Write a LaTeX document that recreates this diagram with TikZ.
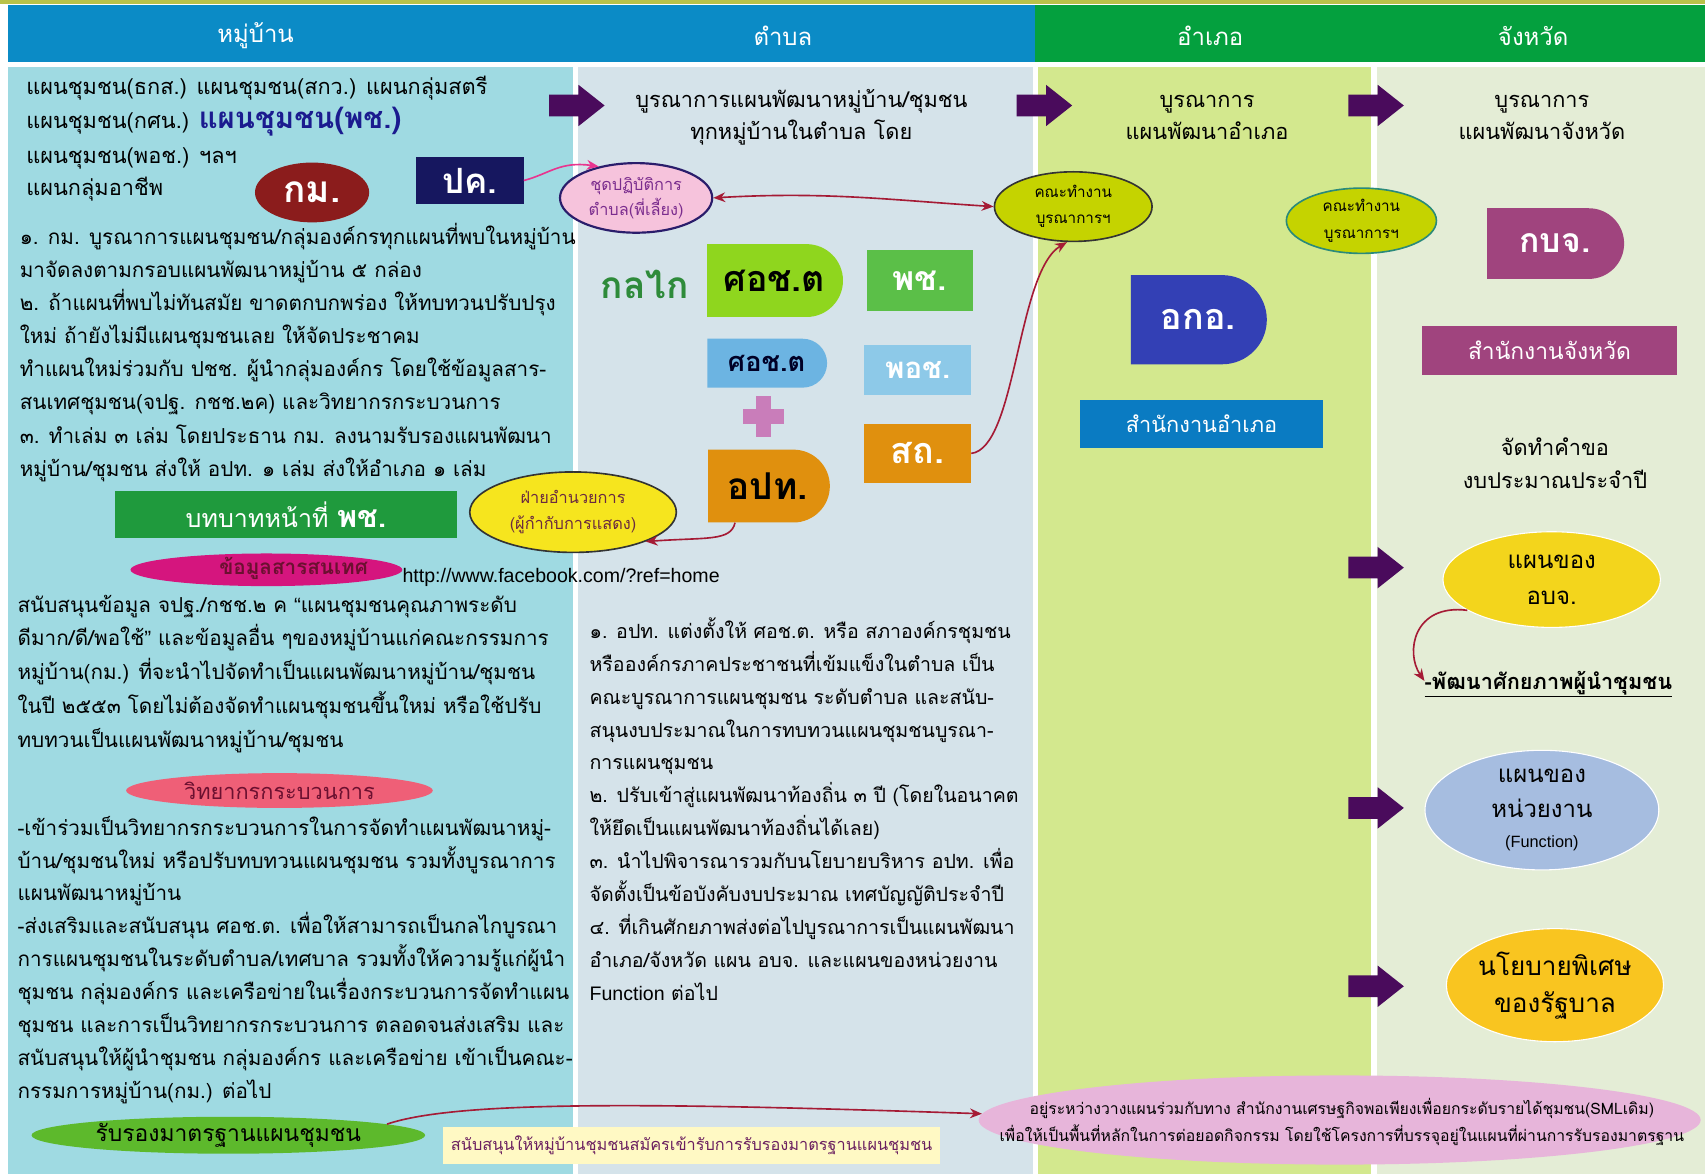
\documentclass[tikz,border=0pt]{standalone}
\usepackage{fontspec}
\setmainfont[Script=Thai]{Loma}
\newfontfamily\latin{Liberation Sans}
\usetikzlibrary{shapes.geometric,shapes.misc,arrows.meta}
\definecolor{topline}{HTML}{B9C24A}
\definecolor{hblue}{HTML}{0B8BC6}
\definecolor{hgreen}{HTML}{04A03E}
\definecolor{colA}{HTML}{9FDAE2}
\definecolor{colB}{HTML}{D5E3EA}
\definecolor{colC}{HTML}{D3E88E}
\definecolor{colD}{HTML}{E4EDD6}
\definecolor{apurple}{HTML}{4A0B5C}
\definecolor{kmred}{HTML}{8B1C1C}
\definecolor{pknavy}{HTML}{16175F}
\definecolor{navytext}{HTML}{1B1B8F}
\definecolor{cspink}{HTML}{F6C3DC}
\definecolor{csborder}{HTML}{2A1D6B}
\definecolor{cstext}{HTML}{7B2D8E}
\definecolor{ktyellow}{HTML}{C5D300}
\definecolor{ktteal}{HTML}{2A8A7A}
\definecolor{ctrlgreen}{HTML}{2E8B3A}
\definecolor{sodlime}{HTML}{8FD61E}
\definecolor{pchgreen}{HTML}{5BBF48}
\definecolor{sodblue}{HTML}{6CB4E2}
\definecolor{pochblue}{HTML}{8DC9E8}
\definecolor{plusviolet}{HTML}{C97DBA}
\definecolor{orangebox}{HTML}{E0900E}
\definecolor{faiyellow}{HTML}{F6E51E}
\definecolor{faitext}{HTML}{6A2A40}
\definecolor{akoblue}{HTML}{3340B5}
\definecolor{amphblue}{HTML}{0A7BC2}
\definecolor{kbjpurple}{HTML}{A0447E}
\definecolor{objyellow}{HTML}{F3D51C}
\definecolor{fnblue}{HTML}{A6BDE0}
\definecolor{polorange}{HTML}{F9C520}
\definecolor{pchrect}{HTML}{1F9A3D}
\definecolor{infomag}{HTML}{D5157E}
\definecolor{infotext}{HTML}{6B1030}
\definecolor{wtpink}{HTML}{EF5F77}
\definecolor{rrgreen}{HTML}{5DB92C}
\definecolor{noteyellow}{HTML}{FFF9C4}
\definecolor{notetext}{HTML}{6B2060}
\definecolor{bigpink}{HTML}{E7B5DA}
\definecolor{connred}{HTML}{A51B35}
\definecolor{magline}{HTML}{E8358F}
\newcommand\fsz[2]{\fontsize{#1}{#2}\selectfont}
\begin{document}
\begin{tikzpicture}[x=1pt,y=-1pt,
  hdr/.style={text=white, font=\fsz{22}{26}, inner sep=0},
  lineA/.style={anchor=base west, inner sep=0, font=\fsz{19}{24}},
  lineT/.style={anchor=base west, inner sep=0, font=\fsz{20}{24}},
  lineB/.style={anchor=base west, inner sep=0, font=\fsz{18}{22}},
  ttl/.style={align=center, font=\fsz{20}{30}, inner sep=0},
  boxr/.style={rectangle, inner sep=0},
  dbox/.style={rounded rectangle, rounded rectangle left arc=none, inner sep=0},
  ell/.style={ellipse, inner sep=0},
  conn/.style={draw=connred, line width=1.5pt, -{Stealth[length=11pt,width=9pt]}},
  bigarrow/.pic={\fill[apurple] (0,-10) -- (27,-10) -- (27,-19) -- (51,0) -- (27,19) -- (27,10) -- (0,10) -- cycle;}
]
\useasboundingbox (0,0) rectangle (1568,1080);
\fill[white] (0,0) rectangle (1568,1080);
\fill[topline] (0,0) rectangle (1568,4);
\fill[hblue] (7,5) rectangle (952,57);
\fill[hgreen] (952,5) rectangle (1568,57);
\fill[colA] (7,62) rectangle (527,1080);
\fill[colB] (532,62) rectangle (950,1080);
\fill[colC] (955,62) rectangle (1261,1080);
\fill[colD] (1266,62) rectangle (1568,1080);

% headers
\node[hdr] (h1) at (235,33) {หมู่บ้าน};
\node[hdr] (h2) at (720,33) {ตำบล};
\node[hdr] (h3) at (1113,33) {อำเภอ};
\node[hdr] (h4) at (1410,33) {จังหวัด};

% column 1 top
\node[lineT] (t1) at (24,87) {แผนชุมชน(ธกส.) แผนชุมชน(สกว.) แผนกลุ่มสตรี};
\node[lineT] (t2) at (24,118) {แผนชุมชน(กศน.) {\color{navytext}\bfseries\fsz{27}{30}แผนชุมชน(พช.)}};
\node[lineT] (t3) at (24,150) {แผนชุมชน(พอช.) ฯลฯ};
\node[lineT] (t4) at (24,180) {แผนกลุ่มอาชีพ};
\node[ell, fill=kmred, minimum width=105, minimum height=55, text=white, font=\bfseries\fsz{34}{36}] (km) at (287,177) {กม.};
\node[boxr, fill=pknavy, minimum width=99, minimum height=43, text=white, font=\bfseries\fsz{32}{34}] (pk) at (432,166) {ปค.};

\foreach \t [count=\i] in {
 {๑. กม. บูรณาการแผนชุมชน/กลุ่มองค์กรทุกแผนที่พบในหมู่บ้าน},
 {มาจัดลงตามกรอบแผนพัฒนาหมู่บ้าน ๕ กล่อง},
 {๒. ถ้าแผนที่พบไม่ทันสมัย ขาดตกบกพร่อง ให้ทบทวนปรับปรุง},
 {ใหม่ ถ้ายังไม่มีแผนชุมชนเลย ให้จัดประชาคม},
 {ทำแผนใหม่ร่วมกับ ปชช. ผู้นำกลุ่มองค์กร โดยใช้ข้อมูลสาร-},
 {สนเทศชุมชน(จปฐ. กชช.๒ค) และวิทยากรกระบวนการ},
 {๓. ทำเล่ม ๓ เล่ม โดยประธาน กม. ลงนามรับรองแผนพัฒนา},
 {หมู่บ้าน/ชุมชน ส่งให้ อปท. ๑ เล่ม ส่งให้อำเภอ ๑ เล่ม}}
 \node[lineA] (na\i) at (18,{225+30.4*(\i-1)}) {\t};

\node[boxr, fill=pchrect, minimum width=314, minimum height=43, text=white, font=\fsz{23}{26}] (pchbox) at (263,473) {บทบาทหน้าที่ {\bfseries\fsz{28}{30}พช.}};
\node[ell, fill=infomag, minimum width=250, minimum height=30] (info) at (245,524) {};
\node[inner sep=0, text=infotext, font=\bfseries\fsz{19}{22}] (infot) at (270,523) {ข้อมูลสารสนเทศ};
\node[anchor=base west, inner sep=0, font=\latin\fsz{18}{20}] (url) at (370,536) {http://www.facebook.com/?ref=home};

\foreach \t [count=\i] in {
 {สนับสนุนข้อมูล จปฐ./กชช.๒ ค {\latin “}แผนชุมชนคุณภาพระดับ},
 {ดีมาก/ดี/พอใช้{\latin ”} และข้อมูลอื่น ๆของหมู่บ้านแก่คณะกรรมการ},
 {หมู่บ้าน(กม.) ที่จะนำไปจัดทำเป็นแผนพัฒนาหมู่บ้าน/ชุมชน},
 {ในปี ๒๕๕๓ โดยไม่ต้องจัดทำแผนชุมชนขึ้นใหม่ หรือใช้ปรับ},
 {ทบทวนเป็นแผนพัฒนาหมู่บ้าน/ชุมชน}}
 \node[lineA] (nb\i) at (16,{563+31*(\i-1)}) {\t};

\node[ell, fill=wtpink, minimum width=282, minimum height=32, text=infotext, font=\fsz{20}{22}] (wt) at (257,727) {วิทยากรกระบวนการ};

\foreach \t [count=\i] in {
 {-เข้าร่วมเป็นวิทยากรกระบวนการในการจัดทำแผนพัฒนาหมู่-},
 {บ้าน/ชุมชนใหม่ หรือปรับทบทวนแผนชุมชน รวมทั้งบูรณาการ},
 {แผนพัฒนาหมู่บ้าน},
 {-ส่งเสริมและสนับสนุน ศอช.ต. เพื่อให้สามารถเป็นกลไกบูรณา},
 {การแผนชุมชนในระดับตำบล/เทศบาล รวมทั้งให้ความรู้แก่ผู้นำ},
 {ชุมชน กลุ่มองค์กร และเครือข่ายในเรื่องกระบวนการจัดทำแผน},
 {ชุมชน และการเป็นวิทยากรกระบวนการ ตลอดจนส่งเสริม และ},
 {สนับสนุนให้ผู้นำชุมชน กลุ่มองค์กร และเครือข่าย เข้าเป็นคณะ-},
 {กรรมการหมู่บ้าน(กม.) ต่อไป}}
 \node[lineA] (nc\i) at (16,{768+30.25*(\i-1)}) {\t};

\node[ell, fill=rrgreen, minimum width=362, minimum height=34, font=\fsz{21}{24}] (rr) at (210,1044) {รับรองมาตรฐานแผนชุมชน};
\node[boxr, fill=noteyellow, minimum width=457, minimum height=34, text=notetext, font=\fsz{15}{18}] (note) at (636,1053) {สนับสนุนให้หมู่บ้านชุมชนสมัครเข้ารับการรับรองมาตรฐานแผนชุมชน};
\node[ell, fill=bigpink, minimum width=664, minimum height=82] (pe) at (1232,1030) {};
\node[align=center, inner sep=0, font=\fsz{14.5}{25}] (pet) at (1234,1032) {อยู่ระหว่างวางแผนร่วมกับทาง สำนักงานเศรษฐกิจพอเพียงเพื่อยกระดับรายได้ชุมชน(SMLเดิม)\\เพื่อให้เป็นพื้นที่หลักในการต่อยอดกิจกรรม โดยใช้โครงการที่บรรจุอยู่ในแผนที่ผ่านการรับรองมาตรฐาน};

% block arrows
\pic at (505,97) {bigarrow};
\pic at (935,97) {bigarrow};
\pic at (1240,97) {bigarrow};
\pic at (1240,522) {bigarrow};
\pic at (1240,743) {bigarrow};
\pic at (1240,907) {bigarrow};

% column 2
\node[ttl] (tt2) at (737,108) {บูรณาการแผนพัฒนาหมู่บ้าน/ชุมชน\\ทุกหมู่บ้านในตำบล โดย};
\node[ell, fill=cspink, draw=csborder, line width=2pt, minimum width=140, minimum height=64, align=center, text=cstext, font=\fsz{15}{23}] (cs) at (585,182) {ชุดปฏิบัติการ\\ตำบล(พี่เลี้ยง)};
\node[ell, fill=ktyellow, draw=black!80, line width=1.5pt, minimum width=145, minimum height=64, align=center, font=\fsz{14}{24}] (kt1) at (987,190) {คณะทำงาน\\บูรณาการฯ};
\node[ell, fill=ktyellow, draw=ktteal, line width=1.5pt, minimum width=138, minimum height=60, align=center, font=\fsz{14}{24}] (kt2) at (1252,203) {คณะทำงาน\\บูรณาการฯ};

\node[inner sep=0, text=ctrlgreen, font=\bfseries\fsz{34}{36}] (kk) at (593,262) {กลไก};
\node[dbox, fill=sodlime, minimum width=125, minimum height=67, font=\bfseries\fsz{33}{36}] (sod1) at (712,258) {ศอช.ต};
\node[boxr, fill=pchgreen, minimum width=98, minimum height=56, text=white, font=\bfseries\fsz{31}{34}] (pch) at (846,258) {พช.};
\node[dbox, fill=sodblue, minimum width=110, minimum height=45, text=black!85!blue, font=\bfseries\fsz{25}{28}] (sod2) at (705,334) {ศอช.ต};
\node[boxr, fill=pochblue, minimum width=98, minimum height=46, text=white, font=\bfseries\fsz{27}{30}] (poch) at (844,340) {พอช.};
\fill[plusviolet] (683,376) rectangle (721,390);
\fill[plusviolet] (695,364) rectangle (709,402);
\node[dbox, fill=orangebox, minimum width=112, minimum height=67, font=\bfseries\fsz{34}{36}] (opt) at (706,447) {อปท.};
\node[boxr, fill=orangebox, minimum width=98, minimum height=54, text=white, font=\bfseries\fsz{33}{36}] (sk) at (844,417) {สถ.};
\node[ell, fill=faiyellow, draw=black!80, line width=1.5pt, minimum width=190, minimum height=74, align=center, text=faitext, font=\fsz{15}{24}] (fa) at (527,471) {ฝ่ายอำนวยการ\\(ผู้กำกับการแสดง)};

\foreach \t [count=\i] in {
 {๑. อปท. แต่งตั้งให้ ศอช.ต. หรือ สภาองค์กรชุมชน},
 {หรือองค์กรภาคประชาชนที่เข้มแข็งในตำบล เป็น},
 {คณะบูรณาการแผนชุมชน ระดับตำบล และสนับ-},
 {สนุนงบประมาณในการทบทวนแผนชุมชนบูรณา-},
 {การแผนชุมชน},
 {๒. ปรับเข้าสู่แผนพัฒนาท้องถิ่น ๓ ปี (โดยในอนาคต},
 {ให้ยึดเป็นแผนพัฒนาท้องถิ่นได้เลย)},
 {๓. นำไปพิจารณารวมกับนโยบายบริหาร อปท. เพื่อ},
 {จัดตั้งเป็นข้อบังคับงบประมาณ เทศบัญญัติประจำปี},
 {๔. ที่เกินศักยภาพส่งต่อไปบูรณาการเป็นแผนพัฒนา},
 {อำเภอ/จังหวัด แผน อบจ. และแผนของหน่วยงาน},
 {{\latin Function} ต่อไป}}
 \node[lineB] (nd\i) at (542,{587+30.27*(\i-1)}) {\t};

% column 3
\node[ttl] (tt3) at (1110,108) {บูรณาการ\\แผนพัฒนาอำเภอ};
\node[dbox, fill=akoblue, minimum width=125, minimum height=82, text=white, font=\bfseries\fsz{33}{36}] (ako) at (1102,294) {อกอ.};
\node[boxr, fill=amphblue, minimum width=224, minimum height=44, text=white, font=\fsz{20}{24}] (amph) at (1105,390) {สำนักงานอำเภอ};

% column 4
\node[ttl] (tt4) at (1418,108) {บูรณาการ\\แผนพัฒนาจังหวัด};
\node[dbox, fill=kbjpurple, minimum width=126, minimum height=65, text=white, font=\bfseries\fsz{31}{34}] (kbj) at (1430,224) {กบจ.};
\node[boxr, fill=kbjpurple, minimum width=234, minimum height=45, text=white, font=\fsz{21}{24}] (prov) at (1425,322) {สำนักงานจังหวัด};
\node[ttl] (req) at (1430,426) {จัดทำคำขอ\\งบประมาณประจำปี};
\node[ell, fill=objyellow, draw=white, line width=1pt, minimum width=200, minimum height=88, align=center, font=\fsz{22}{33}] (obj) at (1427,533) {แผนของ\\อบจ.};
\node[anchor=base west, inner sep=0, font=\bfseries\fsz{20}{22}] (dv) at (1310,634) {\underline{-พัฒนาศักยภาพผู้นำชุมชน}};
\node[ell, fill=fnblue, draw=white, line width=1pt, minimum width=215, minimum height=110, align=center, font=\fsz{22}{32}] (fn) at (1418,745) {แผนของ\\หน่วยงาน\\[-4pt]{\latin\fsz{15}{18}(Function)}};
\node[ell, fill=polorange, draw=white, line width=1pt, minimum width=188, minimum height=104, align=center, font=\fsz{24}{34}] (pol) at (1430,906) {นโยบายพิเศษ\\ของรัฐบาล};

% connectors
\draw[draw=magline, line width=1.5pt, -{Stealth[length=11pt,width=9pt]}] (pk.east) .. controls (505,160) and (515,148) .. (cs.140);
\draw[conn, {Stealth[length=11pt,width=9pt]}-{Stealth[length=11pt,width=9pt]}] (cs.east) .. controls (760,176) and (820,184) .. (kt1.west);
\draw[conn] (sk.east) .. controls (935,412) and (935,250) .. (kt1.-100);
\draw[conn] ([xshift=25pt]opt.south west) .. controls (672,498) and (650,494) .. (fa.-22);
\draw[conn] (obj.200) .. controls (1300,555) and (1292,600) .. ([yshift=3pt]dv.west);
\draw[conn] (rr.4) .. controls (420,1012) and (600,1014) .. (pe.179);
\end{tikzpicture}
\end{document}
